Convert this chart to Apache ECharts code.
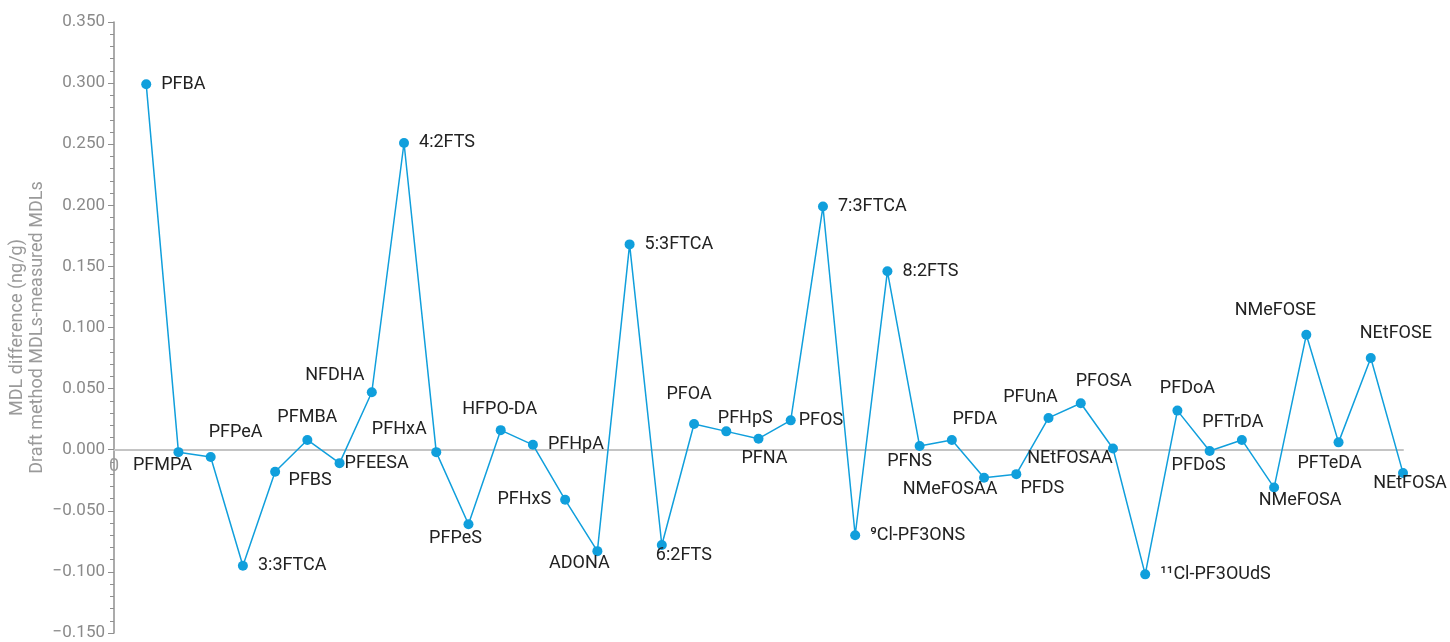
<!DOCTYPE html>
<html>
<head>
<meta charset="utf-8">
<script src="https://cdn.jsdelivr.net/npm/echarts@6/dist/echarts.min.js"></script>
<style>
  html, body { margin: 0; padding: 0; background: #fff; }
  #chart { width: 1450px; height: 642px; }
</style>
</head>
<body>
<div id="chart"></div>
<script>
// compounds, in plotted order
const compounds = ['PFBA','PFMPA','PFPeA','3:3FTCA','PFBS','PFMBA','PFEESA','NFDHA','4:2FTS','PFHxA',
  'PFPeS','HFPO-DA','PFHpA','PFHxS','ADONA','5:3FTCA','6:2FTS','PFOA','PFHpS','PFNA',
  'PFOS','7:3FTCA','⁹Cl-PF3ONS','8:2FTS','PFNS','PFDA','NMeFOSAA','PFDS','PFUnA','PFOSA',
  'NEtFOSAA','¹¹Cl-PF3OUdS','PFDoA','PFDoS','PFTrDA','NMeFOSA','NMeFOSE','PFTeDA','NEtFOSE','NEtFOSA'];

// MDL difference (ng/g)
const mdlDiff = [0.299,-0.002,-0.006,-0.095,-0.018,0.008,-0.011,0.047,0.251,-0.002,
  -0.061,0.016,0.004,-0.041,-0.083,0.168,-0.078,0.021,0.015,0.009,
  0.024,0.199,-0.070,0.146,0.003,0.008,-0.023,-0.020,0.026,0.038,
  0.001,-0.102,0.032,-0.001,0.008,-0.031,0.094,0.006,0.075,-0.019];

const yTicks = [-0.15,-0.10,-0.05,0,0.05,0.10,0.15,0.20,0.25,0.30,0.35];

// where each point's label sits: 'r' right, 'l' left, or [dx, dy] from the dot
const labelPlace = ['r',[-16,13],[25,-25],'r',[35,9],[0,-22],['r',-10],[-37,-17],'r',[-37,-23],
  [-13,14],[-1,-21],'r','l',[-18,12],'r',[22,10],[-5,-30],[19,-13],[6,20],
  ['r',-7],'r','r','r',[-10,15],[23,-20],[-34,12],[26,14],[-18,-20],[23,-22],
  [-43,10],'r',[10,-22],[-11,15],[-9,-17],[26,13],[-31,-24],[-9,21],[25,-25],[7,11]];

const gridTop = 22, gridBottom = 9, chartH = 642;
const yMin = yTicks[0], yMax = yTicks[yTicks.length - 1];
// lift the x axis (line + its "0") up to the y = 0 level
const zeroLift = (chartH - gridTop - gridBottom) * (0 - yMin) / (yMax - yMin);

const chart = echarts.init(document.getElementById('chart'));

const labelFor = (p) => {
  if (p === 'r') return { position: 'right', distance: 10 };
  if (p === 'l') return { position: 'left', distance: 9 };
  if (p[0] === 'r') return { position: 'right', distance: 10 + p[1] };
  return { position: 'inside', offset: p };
};

const seriesData = mdlDiff.map((v, i) => ({
  name: compounds[i],
  value: [i + 1, v],
  label: labelFor(labelPlace[i])
}));

chart.setOption({
  animation: false,
  textStyle: { fontFamily: 'Roboto, sans-serif' },
  grid: { left: 114, right: 47, top: gridTop, bottom: gridBottom, containLabel: false, outerBoundsMode: 'none' },
  xAxis: {
    type: 'value',
    position: 'bottom',
    offset: -zeroLift,
    min: 0,
    max: compounds.length,
    interval: compounds.length,
    axisLine: { onZero: false, lineStyle: { color: '#c4c4c4', width: 2 } },
    axisTick: { show: false },
    splitLine: { show: false },
    axisLabel: {
      color: '#9a9a9a', fontSize: 18, margin: 8,
      formatter: v => (v === 0 ? '0' : '')
    }
  },
  yAxis: {
    type: 'value',
    min: yMin,
    max: yMax,
    interval: 0.05,
    name: 'MDL difference (ng/g)\nDraft method MDLs-measured MDLs',
    nameLocation: 'middle',
    nameGap: 67,
    nameMoveOverlap: false,
    nameTextStyle: { color: '#9a9a9a', fontSize: 18, lineHeight: 20 },
    axisLine: { show: true, onZero: false, lineStyle: { color: '#8f8f8f', width: 1.5 } },
    axisTick: { show: true, length: 6, lineStyle: { color: '#8f8f8f' } },
    minorTick: { show: true, splitNumber: 5, length: 4, lineStyle: { color: '#8f8f8f' } },
    splitLine: { show: false },
    axisLabel: {
      color: '#8a8a8a', fontSize: 17, margin: 9,
      formatter: v => (v < 0 ? '\u2212' : '') + Math.abs(v).toFixed(3)
    }
  },
  series: [{
    type: 'line',
    data: seriesData,
    symbol: 'circle',
    symbolSize: 10,
    lineStyle: { color: '#109fdc', width: 1.5 },
    itemStyle: { color: '#109fdc' },
    label: {
      show: true,
      formatter: p => p.name,
      color: '#222',
      fontSize: 18
    }
  }]
});
</script>
</body>
</html>
